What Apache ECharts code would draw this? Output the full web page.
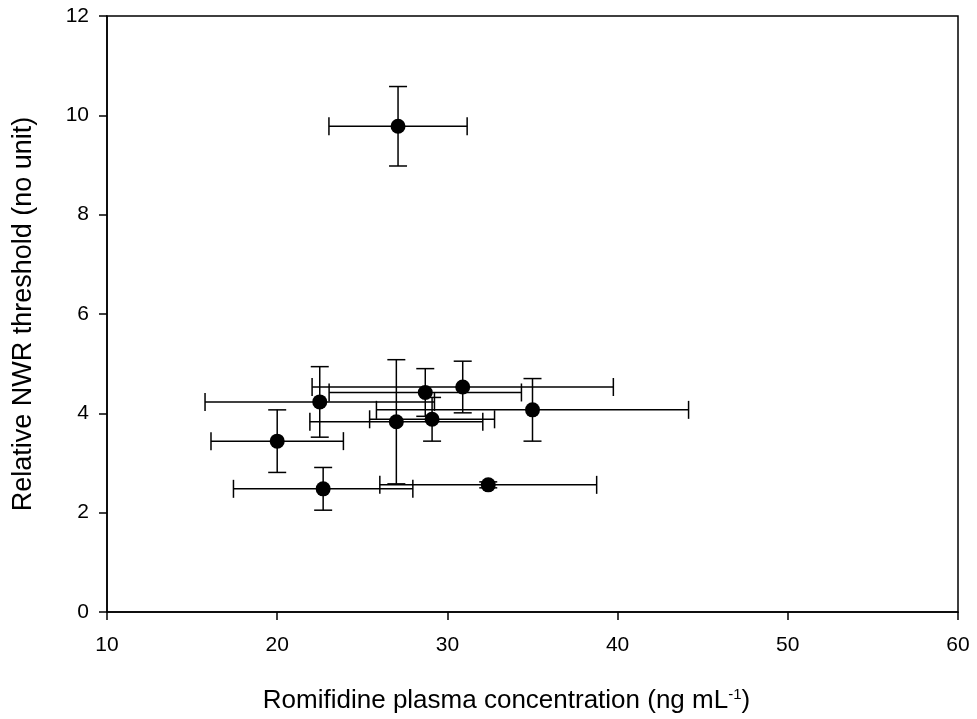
<!doctype html>
<html lang="en">
<head>
    <meta charset="UTF-8">
    <title>Romifidine vs NWR threshold</title>
    <style>
        html, body { margin: 0; padding: 0; background: #fff; }
        #main { width: 977px; height: 719px; }
    </style>
</head>
<body>
<div id="main"></div>
<script type="text/javascript" src="https://cdn.jsdelivr.net/npm/echarts@6/dist/echarts.min.js"></script>
<script type="text/javascript">
    // values (mean and SD in each direction)
    var xVals = [27.1, 22.5, 30.9, 28.7, 29.1, 27.0, 35.0, 20.0, 22.7, 32.4];
    var yVals = [9.78, 4.23, 4.53, 4.42, 3.88, 3.83, 4.07, 3.44, 2.48, 2.56];
    var xErr = [4.06, 6.74, 8.85, 5.65, 3.67, 5.08, 9.17, 3.89, 5.27, 6.37];
    var yErr = [0.80, 0.71, 0.52, 0.48, 0.44, 1.25, 0.63, 0.63, 0.43, 0.06];

    var xTicks = [10, 20, 30, 40, 50, 60];
    var yTicks = [0, 2, 4, 6, 8, 10, 12];

    var points = [];
    var bars = [];
    for (var i = 0; i < xVals.length; i++) {
        points.push([xVals[i], yVals[i]]);
        bars.push([xVals[i], yVals[i], xErr[i], yErr[i]]);
    }

    var font = 'Liberation Sans, Arial, sans-serif';
    var cap = 9;

    function line(x1, y1, x2, y2) {
        return {
            type: 'line',
            shape: {x1: x1, y1: y1, x2: x2, y2: y2},
            style: {stroke: '#000', lineWidth: 1.5}
        };
    }

    function renderBars(params, api) {
        var x = api.value(0), y = api.value(1), ex = api.value(2), ey = api.value(3);
        var l = api.coord([x - ex, y]);
        var r = api.coord([x + ex, y]);
        var t = api.coord([x, y + ey]);
        var b = api.coord([x, y - ey]);
        return {
            type: 'group',
            children: [
                line(l[0], l[1], r[0], r[1]),
                line(l[0], l[1] - cap, l[0], l[1] + cap),
                line(r[0], r[1] - cap, r[0], r[1] + cap),
                line(t[0], t[1], b[0], b[1]),
                line(t[0] - cap, t[1], t[0] + cap, t[1]),
                line(b[0] - cap, b[1], b[0] + cap, b[1])
            ]
        };
    }

    var myChart = echarts.init(document.getElementById('main'));
    var option = {
        animation: false,
        backgroundColor: '#fff',
        grid: {
            left: 107, right: 19, top: 16, bottom: 107,
            show: true, borderColor: '#000', borderWidth: 1.5
        },
        xAxis: {
            type: 'value',
            min: xTicks[0], max: xTicks[xTicks.length - 1], interval: 10,
            name: 'Romifidine plasma concentration (ng mL{sup|-1})',
            nameLocation: 'middle',
            nameGap: 75,
            nameTextStyle: {
                fontFamily: font, fontSize: 26, color: '#000',
                padding: [0, 52, 0, 0],
                rich: {sup: {fontFamily: font, fontSize: 15, color: '#000', verticalAlign: 'top', padding: [0, 0, 12, 0]}}
            },
            axisLine: {lineStyle: {color: '#000', width: 1.5}},
            axisTick: {length: 8, lineStyle: {color: '#000', width: 1.5}},
            axisLabel: {fontFamily: font, fontSize: 21, color: '#000', margin: 23},
            splitLine: {show: false}
        },
        yAxis: {
            type: 'value',
            min: yTicks[0], max: yTicks[yTicks.length - 1], interval: 2,
            name: 'Relative NWR threshold (no unit)',
            nameLocation: 'middle',
            nameGap: 70,
            nameTextStyle: {fontFamily: font, fontSize: 27, color: '#000'},
            axisLine: {lineStyle: {color: '#000', width: 1.5}},
            axisTick: {length: 8, lineStyle: {color: '#000', width: 1.5}},
            axisLabel: {fontFamily: font, fontSize: 21, color: '#000', margin: 18},
            splitLine: {show: false}
        },
        series: [
            {
                type: 'custom',
                renderItem: renderBars,
                data: bars,
                encode: {x: 0, y: 1},
                z: 1,
                silent: true
            },
            {
                type: 'scatter',
                data: points,
                symbol: 'circle',
                symbolSize: 15,
                itemStyle: {color: '#000', opacity: 1},
                z: 2
            }
        ]
    };
    myChart.setOption(option);
</script>
</body>
</html>
